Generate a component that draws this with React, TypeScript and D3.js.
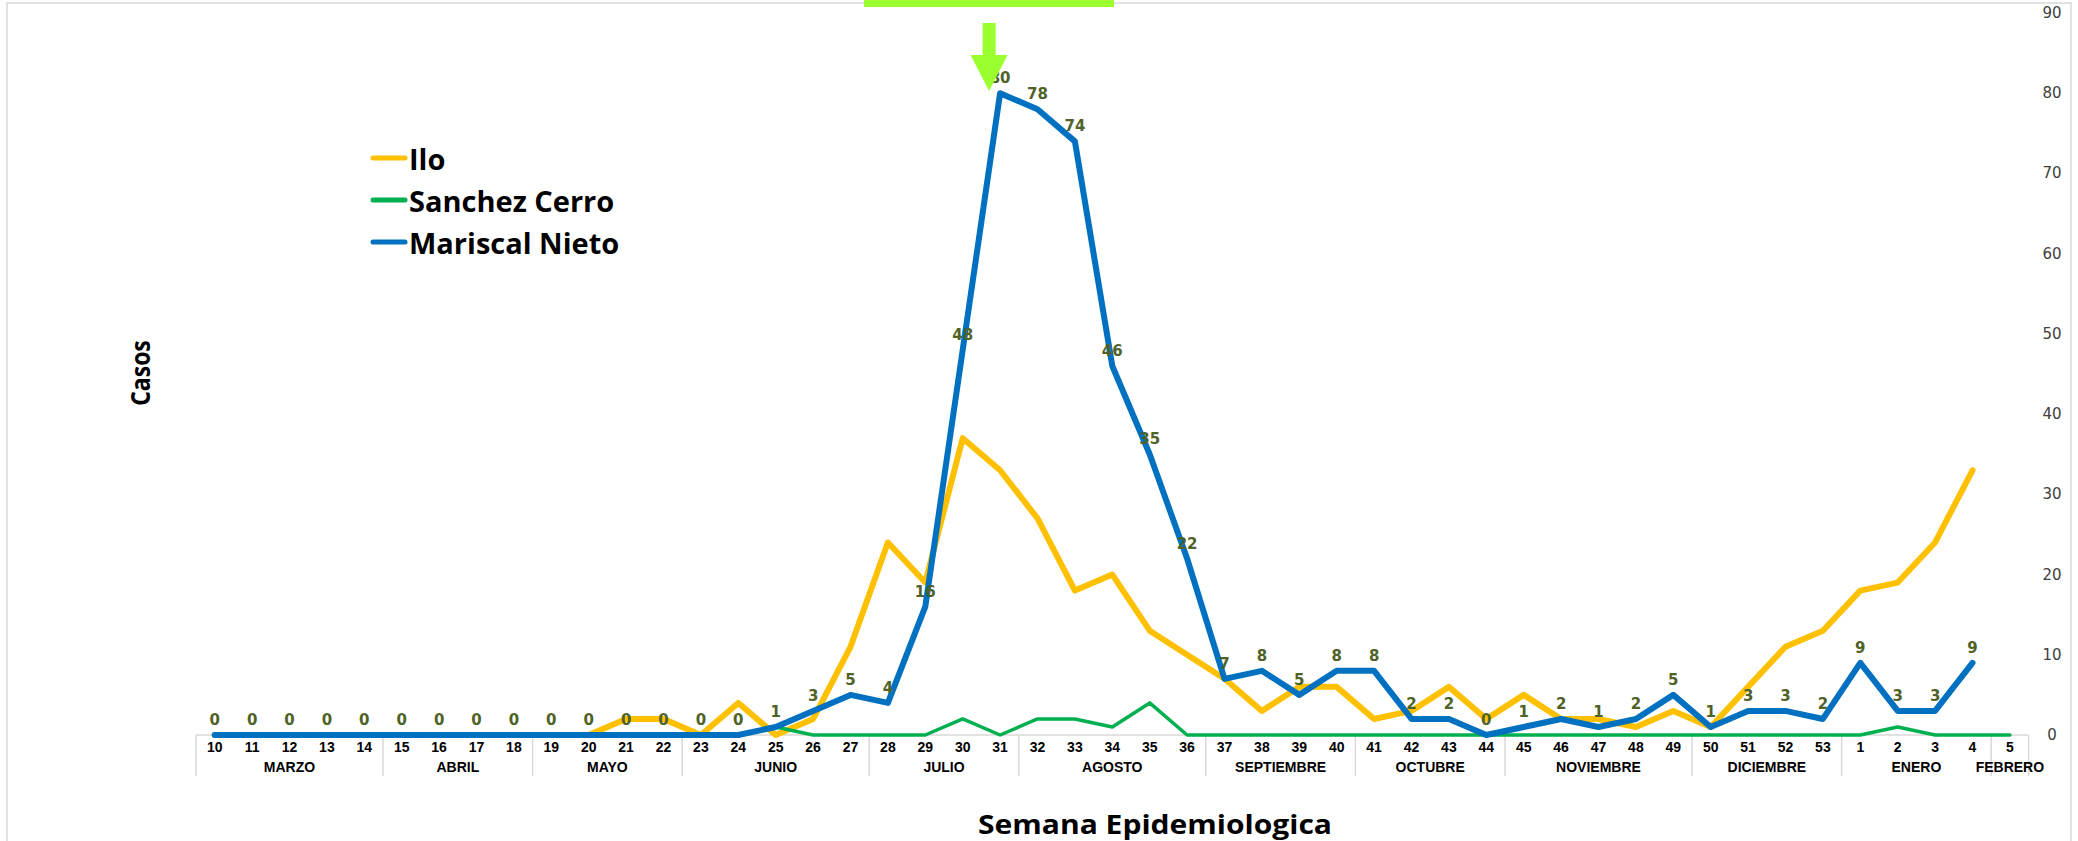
import React from "react";
import * as d3 from "d3";

const weeks: string[] = [
  "10","11","12","13","14","15","16","17","18","19","20","21","22","23","24","25","26","27","28","29","30","31",
  "32","33","34","35","36","37","38","39","40","41","42","43","44","45","46","47","48","49","50","51","52","53",
  "1","2","3","4","5",
];

const monthNames: string[] = ["MARZO","ABRIL","MAYO","JUNIO","JULIO","AGOSTO","SEPTIEMBRE","OCTUBRE","NOVIEMBRE","DICIEMBRE","ENERO","FEBRERO"];
const monthWeekCounts: number[] = [5, 4, 4, 5, 4, 5, 4, 4, 5, 4, 4, 1];

const ilo: (number | null)[] = [
  0,0,0,0,0,0,0,0,0,0,0,
  2,2,0,4,0,2,11,24,19,37,33,27,18,20,13,10,7,3,6,6,2,3,6,2,5,2,2,1,3,1,6,11,13,
  18,19,24,33,null,
];

const sanchezCerro: (number | null)[] = [
  0,0,0,0,0,0,0,0,0,0,0,0,0,0,0,
  1,0,0,0,0,2,0,2,2,1,4,
  0,0,0,0,0,0,0,0,0,0,0,0,0,0,0,0,0,0,
  0,1,0,0,0,
];

const mariscalNieto: (number | null)[] = [
  0,0,0,0,0,0,0,0,0,0,0,0,0,0,0,
  1,3,5,4,16,48,80,78,74,46,35,22,7,8,5,8,8,2,2,0,1,2,1,2,5,1,3,3,2,
  9,3,3,9,null,
];

const seriesNames: string[] = ["Ilo", "Sanchez Cerro", "Mariscal Nieto"];
const yTicks: number[] = [0, 10, 20, 30, 40, 50, 60, 70, 80, 90];

const W = 2078;
const H = 841;
const PLOT_L = 196;
const PLOT_R = 2028.6;
const Y0 = 735;
const Y90 = 13;

export default function App() {
  const x = d3.scaleBand<string>().domain(weeks).range([PLOT_L, PLOT_R]).padding(0);
  const y = d3.scaleLinear().domain([0, 90]).range([Y0, Y90]);
  const cx = (i: number) => (x(weeks[i]) as number) + x.bandwidth() / 2;

  const line = d3
    .line<number | null>()
    .defined((d) => d !== null)
    .x((_, i) => cx(i))
    .y((d) => y(d as number));

  const series = [
    { name: seriesNames[0], data: ilo, color: "#FFC000", width: 6 },
    { name: seriesNames[1], data: sanchezCerro, color: "#00B050", width: 3.5 },
    { name: seriesNames[2], data: mariscalNieto, color: "#0070C0", width: 6 },
  ];

  const boundaries: number[] = [];
  const monthCenters: number[] = [];
  let acc = 0;
  boundaries.push(x(weeks[0]) as number);
  monthWeekCounts.forEach((c) => {
    const start = x(weeks[acc]) as number;
    const endIdx = acc + c - 1;
    const end = (x(weeks[endIdx]) as number) + x.bandwidth();
    monthCenters.push((start + end) / 2);
    boundaries.push(end);
    acc += c;
  });

  const arrowX = cx(21) - 11;

  return (
    <svg
      width={W}
      height={H}
      style={{ position: "absolute", left: 0, top: 0, display: "block", background: "#fff" }}
    >
      <rect x={7} y={3} width={2064} height={900} fill="none" stroke="#d9d9d9" strokeWidth={1.5} />

      <rect x={864} y={0} width={250} height={7} fill="#9BFF2F" />

      <line x1={PLOT_L} x2={PLOT_R} y1={Y0} y2={Y0} stroke="#d9d9d9" strokeWidth={1.5} />
      {boundaries.map((b, i) => (
        <line key={"b" + i} x1={b} x2={b} y1={Y0} y2={776} stroke="#d9d9d9" strokeWidth={1.5} />
      ))}

      {weeks.map((w, i) => (
        <text
          key={"w" + i}
          x={cx(i)}
          y={747}
          textAnchor="middle"
          dominantBaseline="central"
          fontFamily="'Liberation Sans', Arial, sans-serif"
          fontWeight="bold"
          fontSize={14}
          fill="#000"
        >
          {w}
        </text>
      ))}
      {monthNames.map((m, i) => (
        <text
          key={"m" + i}
          x={monthCenters[i]}
          y={767}
          textAnchor="middle"
          dominantBaseline="central"
          fontFamily="'Liberation Sans', Arial, sans-serif"
          fontWeight="bold"
          fontSize={14}
          fill="#000"
        >
          {m}
        </text>
      ))}

      {yTicks.map((t) => (
        <text
          key={"y" + t}
          x={2052}
          y={y(t)}
          textAnchor="middle"
          dominantBaseline="central"
          fontFamily="'DejaVu Sans', Verdana, sans-serif"
          fontSize={15}
          fill="#404040"
        >
          {t}
        </text>
      ))}

      {series.map((s) => (
        <path
          key={s.name}
          d={line(s.data) || ""}
          fill="none"
          stroke={s.color}
          strokeWidth={s.width}
          strokeLinejoin="round"
          strokeLinecap="round"
        />
      ))}

      {mariscalNieto.map((v, i) =>
        v === null ? null : (
          <text
            key={"l" + i}
            x={cx(i)}
            y={y(v) - 15}
            textAnchor="middle"
            dominantBaseline="central"
            fontFamily="'DejaVu Sans', Verdana, sans-serif"
            fontWeight="bold"
            fontSize={15}
            fill="#4F6228"
          >
            {v}
          </text>
        )
      )}

      <rect x={arrowX - 6.5} y={23} width={13} height={33} fill="#9BFF2F" />
      <path d={`M${arrowX - 18.5},55 L${arrowX + 18.5},55 L${arrowX},91 Z`} fill="#9BFF2F" />

      {series.map((s, i) => (
        <g key={"lg" + i} transform={`translate(0, ${158 + i * 42})`}>
          <line x1={373} x2={405} y1={0} y2={0} stroke={s.color} strokeWidth={5} strokeLinecap="round" />
          <text
            x={409}
            y={0}
            dominantBaseline="central"
            fontFamily="'Open Sans', 'DejaVu Sans', sans-serif"
            fontWeight="bold"
            fontSize={29}
            fill="#000"
          >
            {s.name}
          </text>
        </g>
      ))}

      <text
        transform="translate(139, 373) rotate(-90) scale(0.85, 1)"
        textAnchor="middle"
        dominantBaseline="central"
        fontFamily="'Open Sans', sans-serif"
        fontWeight="bold"
        fontSize={27}
        fill="#000"
      >
        Casos
      </text>
      <text
        x={1155}
        y={823}
        textAnchor="middle"
        dominantBaseline="central"
        fontFamily="'Open Sans', sans-serif"
        fontWeight="bold"
        fontSize={27}
        textLength={354}
        lengthAdjust="spacingAndGlyphs"
        fill="#000"
      >
        Semana Epidemiologica
      </text>
    </svg>
  );
}
